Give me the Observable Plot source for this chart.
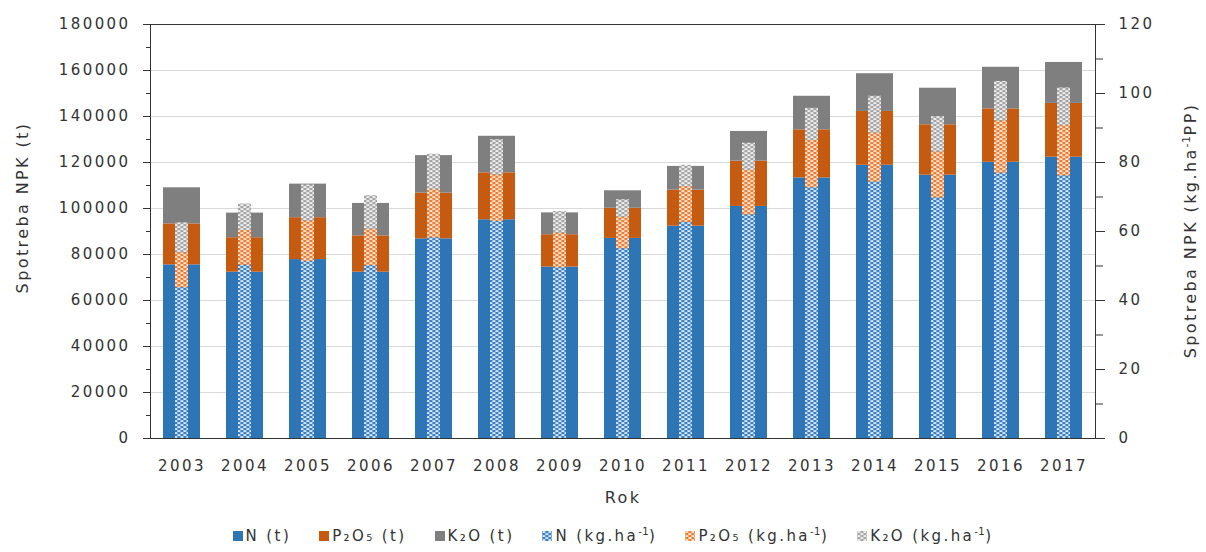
<!DOCTYPE html>
<html><head><meta charset="utf-8">
<script src="https://cdn.jsdelivr.net/npm/d3@7"></script>
<script src="https://cdn.jsdelivr.net/npm/@observablehq/plot@0.6"></script>
<style>
body{margin:0;background:#fff;font-family:"DejaVu Sans",sans-serif;}
#legend{display:flex;justify-content:center;align-items:center;height:32px;font-size:15px;letter-spacing:2.4px;color:#333;padding-left:20px;box-sizing:border-box;}
.item{display:flex;align-items:center;margin:0 14px;white-space:nowrap;}
.item svg{margin-right:3px;}
.item sup{font-size:10px;letter-spacing:0.5px;vertical-align:6px;line-height:0;}
</style></head><body><div id="chart"></div><div id="legend"></div>
<script>
const years = ["2003","2004","2005","2006","2007","2008","2009","2010","2011","2012","2013","2014","2015","2016","2017"];
// consumption in tonnes
const N_t    = [75500, 72300, 77800, 72300, 86800, 95100, 74500, 87000, 92300, 100900, 113300, 118800, 114500, 120100, 122300];
const P2O5_t = [17800, 15000, 18200, 15800, 19900, 20400, 14100, 13100, 15700, 19700, 20900, 23400, 21900, 23200, 23400];
const K2O_t  = [15700, 10700, 14600, 14100, 16300, 15900, 9500, 7600, 10300, 12900, 14600, 16400, 15900, 18100, 17800];
// consumption in kg per ha
const N_ha    = [43.7, 50.3, 51.3, 50.1, 58.2, 62.9, 49.5, 55.0, 62.7, 64.8, 72.7, 74.3, 69.7, 76.9, 76.1];
const P2O5_ha = [10.1, 10.0, 11.7, 10.6, 14.0, 13.5, 10.1, 9.1, 10.3, 12.9, 13.7, 14.2, 13.3, 15.1, 14.6];
const K2O_ha  = [8.7, 7.7, 10.5, 9.7, 10.2, 10.2, 6.2, 5.1, 6.2, 7.9, 9.3, 10.7, 10.3, 11.5, 10.9];

const seriesT  = ["N (t)", "P₂O₅ (t)", "K₂O (t)"];
const seriesHa = ["N (kg.ha⁻¹)", "P₂O₅ (kg.ha⁻¹)", "K₂O (kg.ha⁻¹)"];
const leftTicks = [0, 20000, 40000, 60000, 80000, 100000, 120000, 140000, 160000, 180000];
const rightTicks = [0, 20, 40, 60, 80, 100, 120];
const leftMax = 180000, rightMax = 120;
const ratio = leftMax / rightMax;
const rightTitle = "Spotreba NPK (kg.ha⁻¹PP)";

const solid = ["#2e75b6", "#c55a11", "#7f7f7f"];
const patBg = ["#3a80c6", "#ee7d31", "#a5a5a5"];
const patIds = ["patN", "patP", "patK"];

const tonnes = [], perHa = [];
years.forEach((y, i) => {
  [N_t, P2O5_t, K2O_t].forEach((arr, s) => tonnes.push({year: y, series: seriesT[s], value: arr[i]}));
  [N_ha, P2O5_ha, K2O_ha].forEach((arr, s) => perHa.push({year: y, series: seriesHa[s], value: arr[i]}));
});

const ink = "#333";
const svg = Plot.plot({
  width: 1206, height: 520,
  marginLeft: 150, marginRight: 111, marginTop: 24, marginBottom: 82,
  style: {fontFamily: "DejaVu Sans", fontSize: "15px", color: ink, letterSpacing: "2.4px", background: "#fff"},
  x: {domain: years, padding: 0, axis: null},
  y: {domain: [0, leftMax], axis: null, label: null},
  color: {domain: [...seriesT, ...seriesHa], range: [...solid, ...patIds.map(id => `url(#${id})`)]},
  marks: [
    Plot.ruleY(leftTicks.slice(1, -1), {stroke: "#d9d9d9"}),
    Plot.barY(tonnes, {x: "year", y: "value", fill: "series", insetLeft: 13, insetRight: 13}),
    Plot.barY(perHa, {x: "year", y: d => d.value * ratio, fill: "series", insetLeft: 25, insetRight: 25}),
    Plot.frame({stroke: ink}),
    Plot.axisY({ticks: leftTicks, anchor: "left", tickSize: 7, tickPadding: 13, tickFormat: d => String(d), stroke: ink, label: null}),
    Plot.axisY({ticks: leftTicks.slice(0, -1).map(v => v + 10000), anchor: "left", tickSize: 4, tickFormat: () => "", stroke: ink, label: null}),
    Plot.axisY({ticks: rightTicks.map(v => v * ratio), anchor: "right", tickSize: 9, tickPadding: 14, tickFormat: d => String(Math.round(d / ratio)), stroke: ink, label: null}),
    Plot.axisY({ticks: rightTicks.slice(0, -1).map(v => (v + 10) * ratio), anchor: "right", tickSize: 7, tickFormat: () => "", stroke: ink, label: null}),
    Plot.axisX({tickSize: 0, tickPadding: 22, label: null}),
    Plot.text(["Spotreba NPK (t)"], {text: d => d, frameAnchor: "left", textAnchor: "middle", dx: -128, dy: -24, rotate: -90, fontSize: 16, lineAnchor: "middle"}),
    Plot.text([rightTitle], {text: d => d, frameAnchor: "right", textAnchor: "middle", dx: 95, dy: -1, rotate: -90, fontSize: 16, lineAnchor: "middle"}),
    Plot.text(["Rok"], {text: d => d, frameAnchor: "bottom", textAnchor: "middle", dy: 59, fontSize: 16, lineAnchor: "middle"})
  ]
});

const NS = "http://www.w3.org/2000/svg";
// real superscript in the right axis title
svg.querySelectorAll("text").forEach(t => {
  if (t.textContent === rightTitle) {
    t.textContent = "";
    const parts = [["Spotreba NPK (kg.ha", null], ["-1", "sup"], ["PP)", "after"]];
    parts.forEach(([s, kind]) => {
      const ts = document.createElementNS(NS, "tspan");
      ts.textContent = s;
      if (kind === "sup") { ts.setAttribute("font-size", "11"); ts.setAttribute("dy", "-6"); ts.setAttribute("letter-spacing", "0.5"); }
      if (kind === "after") ts.setAttribute("dy", "6");
      t.appendChild(ts);
    });
  }
});

// pattern definitions
const defs = document.createElementNS(NS, "defs");
patIds.forEach((id, k) => {
  const p = document.createElementNS(NS, "pattern");
  p.setAttribute("id", id);
  p.setAttribute("patternUnits", "userSpaceOnUse");
  p.setAttribute("width", "6");
  p.setAttribute("height", "4");
  const bg = document.createElementNS(NS, "rect");
  bg.setAttribute("width", "6"); bg.setAttribute("height", "4"); bg.setAttribute("fill", patBg[k]);
  p.appendChild(bg);
  [[0.4, 0.3], [3.4, 2.3], [-2.6, 2.3]].forEach(([x, y]) => {
    const r = document.createElementNS(NS, "rect");
    r.setAttribute("x", x); r.setAttribute("y", y);
    r.setAttribute("width", "3"); r.setAttribute("height", "1.5");
    r.setAttribute("fill", "#fff");
    p.appendChild(r);
  });
  defs.appendChild(p);
});
svg.insertBefore(defs, svg.firstChild);
document.getElementById("chart").appendChild(svg);

// legend
const legend = document.getElementById("legend");
const items = [...seriesT.map((s, i) => [s, solid[i]]), ...seriesHa.map((s, i) => [s.replace("⁻¹", "<sup>-1</sup>"), `url(#${patIds[i]})`])];
items.forEach(([label, fill]) => {
  const it = document.createElement("div");
  it.className = "item";
  it.innerHTML = `<svg width="10" height="10"><rect width="10" height="10" fill="${fill}"></rect></svg><span>${label}</span>`;
  legend.appendChild(it);
});
</script>
</body></html>
